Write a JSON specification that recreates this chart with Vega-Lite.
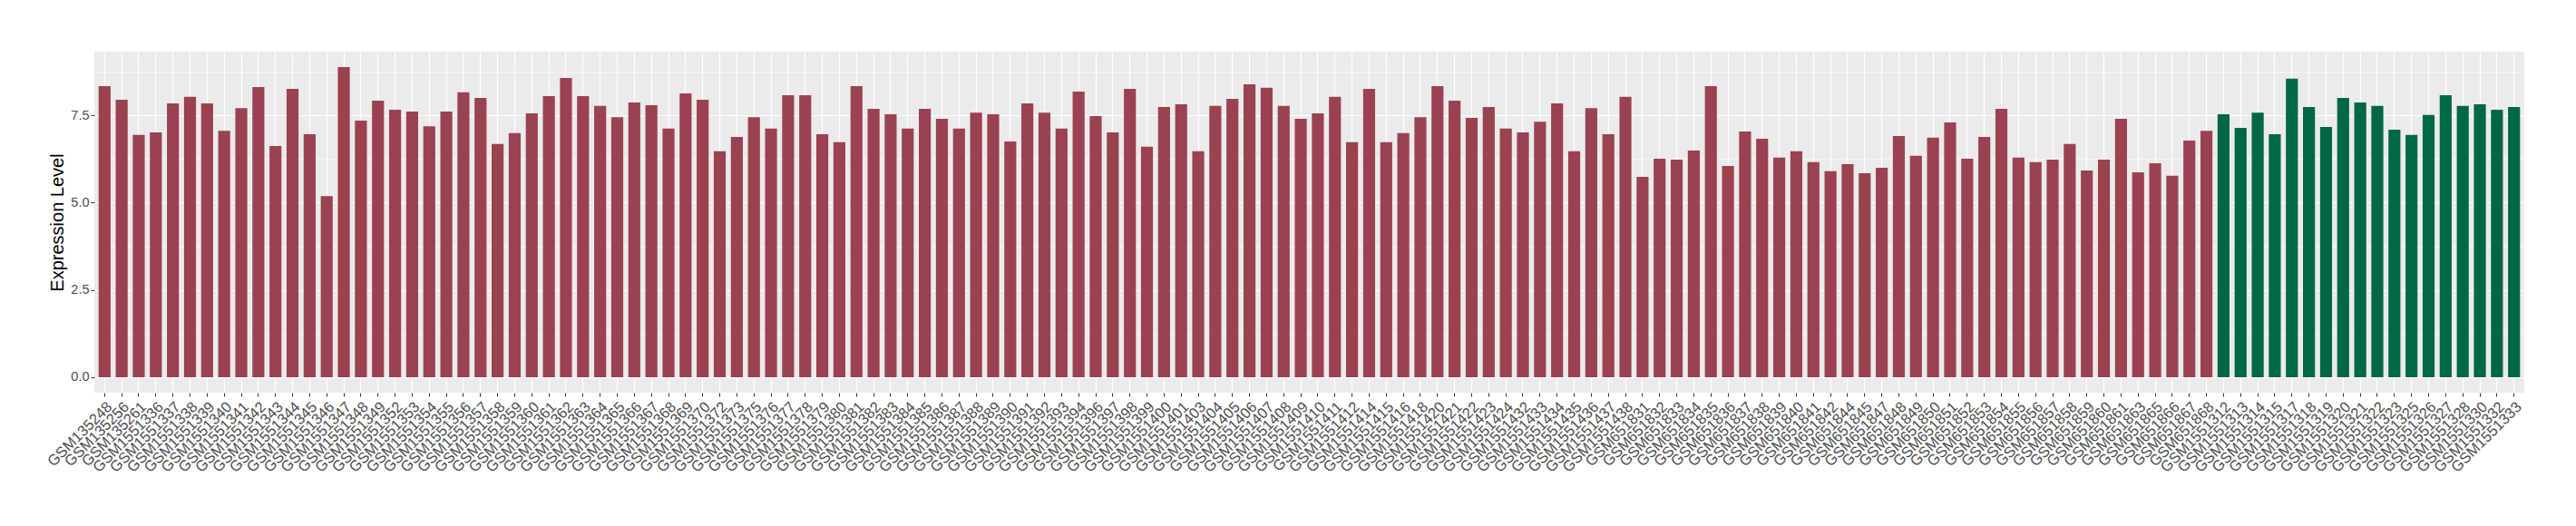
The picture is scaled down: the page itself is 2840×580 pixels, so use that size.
{
  "$schema": "https://vega.github.io/schema/vega-lite/v6.json",
  "width": 2679,
  "height": 376,
  "autosize": "none",
  "padding": {"left": 104, "top": 57, "right": 57, "bottom": 147},
  "background": "white",
  "config": {"view": {"fill": "#EBEBEB", "stroke": null}, "font": "Liberation Sans"},
  "data": {"values": [
    {"sample": "GSM135248", "value": 8.34, "group": "A"},
    {"sample": "GSM135256", "value": 7.95, "group": "A"},
    {"sample": "GSM135261", "value": 6.94, "group": "A"},
    {"sample": "GSM1551336", "value": 7.01, "group": "A"},
    {"sample": "GSM1551337", "value": 7.84, "group": "A"},
    {"sample": "GSM1551338", "value": 8.03, "group": "A"},
    {"sample": "GSM1551339", "value": 7.84, "group": "A"},
    {"sample": "GSM1551340", "value": 7.06, "group": "A"},
    {"sample": "GSM1551341", "value": 7.71, "group": "A"},
    {"sample": "GSM1551342", "value": 8.31, "group": "A"},
    {"sample": "GSM1551343", "value": 6.62, "group": "A"},
    {"sample": "GSM1551344", "value": 8.26, "group": "A"},
    {"sample": "GSM1551345", "value": 6.96, "group": "A"},
    {"sample": "GSM1551346", "value": 5.19, "group": "A"},
    {"sample": "GSM1551347", "value": 8.88, "group": "A"},
    {"sample": "GSM1551348", "value": 7.35, "group": "A"},
    {"sample": "GSM1551349", "value": 7.92, "group": "A"},
    {"sample": "GSM1551352", "value": 7.66, "group": "A"},
    {"sample": "GSM1551353", "value": 7.61, "group": "A"},
    {"sample": "GSM1551354", "value": 7.19, "group": "A"},
    {"sample": "GSM1551355", "value": 7.61, "group": "A"},
    {"sample": "GSM1551356", "value": 8.16, "group": "A"},
    {"sample": "GSM1551357", "value": 8.0, "group": "A"},
    {"sample": "GSM1551358", "value": 6.68, "group": "A"},
    {"sample": "GSM1551359", "value": 6.99, "group": "A"},
    {"sample": "GSM1551360", "value": 7.56, "group": "A"},
    {"sample": "GSM1551361", "value": 8.05, "group": "A"},
    {"sample": "GSM1551362", "value": 8.57, "group": "A"},
    {"sample": "GSM1551363", "value": 8.05, "group": "A"},
    {"sample": "GSM1551364", "value": 7.77, "group": "A"},
    {"sample": "GSM1551365", "value": 7.45, "group": "A"},
    {"sample": "GSM1551366", "value": 7.87, "group": "A"},
    {"sample": "GSM1551367", "value": 7.79, "group": "A"},
    {"sample": "GSM1551368", "value": 7.12, "group": "A"},
    {"sample": "GSM1551369", "value": 8.13, "group": "A"},
    {"sample": "GSM1551370", "value": 7.95, "group": "A"},
    {"sample": "GSM1551372", "value": 6.47, "group": "A"},
    {"sample": "GSM1551373", "value": 6.88, "group": "A"},
    {"sample": "GSM1551375", "value": 7.45, "group": "A"},
    {"sample": "GSM1551376", "value": 7.12, "group": "A"},
    {"sample": "GSM1551377", "value": 8.08, "group": "A"},
    {"sample": "GSM1551378", "value": 8.08, "group": "A"},
    {"sample": "GSM1551379", "value": 6.96, "group": "A"},
    {"sample": "GSM1551380", "value": 6.73, "group": "A"},
    {"sample": "GSM1551381", "value": 8.34, "group": "A"},
    {"sample": "GSM1551382", "value": 7.69, "group": "A"},
    {"sample": "GSM1551383", "value": 7.53, "group": "A"},
    {"sample": "GSM1551384", "value": 7.12, "group": "A"},
    {"sample": "GSM1551385", "value": 7.69, "group": "A"},
    {"sample": "GSM1551386", "value": 7.4, "group": "A"},
    {"sample": "GSM1551387", "value": 7.12, "group": "A"},
    {"sample": "GSM1551388", "value": 7.58, "group": "A"},
    {"sample": "GSM1551389", "value": 7.53, "group": "A"},
    {"sample": "GSM1551390", "value": 6.75, "group": "A"},
    {"sample": "GSM1551391", "value": 7.84, "group": "A"},
    {"sample": "GSM1551392", "value": 7.58, "group": "A"},
    {"sample": "GSM1551393", "value": 7.12, "group": "A"},
    {"sample": "GSM1551394", "value": 8.18, "group": "A"},
    {"sample": "GSM1551396", "value": 7.48, "group": "A"},
    {"sample": "GSM1551397", "value": 7.01, "group": "A"},
    {"sample": "GSM1551398", "value": 8.26, "group": "A"},
    {"sample": "GSM1551399", "value": 6.6, "group": "A"},
    {"sample": "GSM1551400", "value": 7.74, "group": "A"},
    {"sample": "GSM1551401", "value": 7.82, "group": "A"},
    {"sample": "GSM1551403", "value": 6.47, "group": "A"},
    {"sample": "GSM1551404", "value": 7.77, "group": "A"},
    {"sample": "GSM1551405", "value": 7.97, "group": "A"},
    {"sample": "GSM1551406", "value": 8.39, "group": "A"},
    {"sample": "GSM1551407", "value": 8.29, "group": "A"},
    {"sample": "GSM1551408", "value": 7.77, "group": "A"},
    {"sample": "GSM1551409", "value": 7.4, "group": "A"},
    {"sample": "GSM1551410", "value": 7.56, "group": "A"},
    {"sample": "GSM1551411", "value": 8.03, "group": "A"},
    {"sample": "GSM1551412", "value": 6.73, "group": "A"},
    {"sample": "GSM1551414", "value": 8.26, "group": "A"},
    {"sample": "GSM1551415", "value": 6.73, "group": "A"},
    {"sample": "GSM1551416", "value": 6.99, "group": "A"},
    {"sample": "GSM1551418", "value": 7.45, "group": "A"},
    {"sample": "GSM1551420", "value": 8.34, "group": "A"},
    {"sample": "GSM1551421", "value": 7.92, "group": "A"},
    {"sample": "GSM1551422", "value": 7.43, "group": "A"},
    {"sample": "GSM1551423", "value": 7.74, "group": "A"},
    {"sample": "GSM1551424", "value": 7.12, "group": "A"},
    {"sample": "GSM1551432", "value": 7.01, "group": "A"},
    {"sample": "GSM1551433", "value": 7.32, "group": "A"},
    {"sample": "GSM1551434", "value": 7.84, "group": "A"},
    {"sample": "GSM1551435", "value": 6.47, "group": "A"},
    {"sample": "GSM1551436", "value": 7.71, "group": "A"},
    {"sample": "GSM1551437", "value": 6.96, "group": "A"},
    {"sample": "GSM1551438", "value": 8.03, "group": "A"},
    {"sample": "GSM651831", "value": 5.74, "group": "A"},
    {"sample": "GSM651832", "value": 6.26, "group": "A"},
    {"sample": "GSM651833", "value": 6.23, "group": "A"},
    {"sample": "GSM651834", "value": 6.49, "group": "A"},
    {"sample": "GSM651835", "value": 8.34, "group": "A"},
    {"sample": "GSM651836", "value": 6.05, "group": "A"},
    {"sample": "GSM651837", "value": 7.04, "group": "A"},
    {"sample": "GSM651838", "value": 6.83, "group": "A"},
    {"sample": "GSM651839", "value": 6.29, "group": "A"},
    {"sample": "GSM651840", "value": 6.47, "group": "A"},
    {"sample": "GSM651841", "value": 6.16, "group": "A"},
    {"sample": "GSM651842", "value": 5.9, "group": "A"},
    {"sample": "GSM651844", "value": 6.1, "group": "A"},
    {"sample": "GSM651845", "value": 5.84, "group": "A"},
    {"sample": "GSM651847", "value": 6.0, "group": "A"},
    {"sample": "GSM651848", "value": 6.91, "group": "A"},
    {"sample": "GSM651849", "value": 6.34, "group": "A"},
    {"sample": "GSM651850", "value": 6.86, "group": "A"},
    {"sample": "GSM651851", "value": 7.3, "group": "A"},
    {"sample": "GSM651852", "value": 6.26, "group": "A"},
    {"sample": "GSM651853", "value": 6.88, "group": "A"},
    {"sample": "GSM651854", "value": 7.69, "group": "A"},
    {"sample": "GSM651855", "value": 6.29, "group": "A"},
    {"sample": "GSM651856", "value": 6.16, "group": "A"},
    {"sample": "GSM651857", "value": 6.23, "group": "A"},
    {"sample": "GSM651858", "value": 6.68, "group": "A"},
    {"sample": "GSM651859", "value": 5.92, "group": "A"},
    {"sample": "GSM651860", "value": 6.23, "group": "A"},
    {"sample": "GSM651861", "value": 7.4, "group": "A"},
    {"sample": "GSM651863", "value": 5.87, "group": "A"},
    {"sample": "GSM651865", "value": 6.13, "group": "A"},
    {"sample": "GSM651866", "value": 5.77, "group": "A"},
    {"sample": "GSM651867", "value": 6.78, "group": "A"},
    {"sample": "GSM651868", "value": 7.06, "group": "A"},
    {"sample": "GSM1551312", "value": 7.53, "group": "B"},
    {"sample": "GSM1551313", "value": 7.14, "group": "B"},
    {"sample": "GSM1551314", "value": 7.58, "group": "B"},
    {"sample": "GSM1551315", "value": 6.96, "group": "B"},
    {"sample": "GSM1551317", "value": 8.55, "group": "B"},
    {"sample": "GSM1551318", "value": 7.74, "group": "B"},
    {"sample": "GSM1551319", "value": 7.17, "group": "B"},
    {"sample": "GSM1551320", "value": 8.0, "group": "B"},
    {"sample": "GSM1551321", "value": 7.87, "group": "B"},
    {"sample": "GSM1551322", "value": 7.77, "group": "B"},
    {"sample": "GSM1551323", "value": 7.09, "group": "B"},
    {"sample": "GSM1551325", "value": 6.94, "group": "B"},
    {"sample": "GSM1551326", "value": 7.51, "group": "B"},
    {"sample": "GSM1551327", "value": 8.08, "group": "B"},
    {"sample": "GSM1551328", "value": 7.77, "group": "B"},
    {"sample": "GSM1551330", "value": 7.82, "group": "B"},
    {"sample": "GSM1551332", "value": 7.66, "group": "B"},
    {"sample": "GSM1551333", "value": 7.74, "group": "B"}
  ]},
  "mark": {"type": "bar"},
  "encoding": {
    "x": {
      "field": "sample", "type": "nominal", "sort": null,
      "scale": {"paddingInner": 0.3, "paddingOuter": 0.25},
      "axis": {
        "title": null, "labelAngle": -45, "labelAlign": "right", "labelBaseline": "top",
        "labelFontSize": 16.5, "labelColor": "#4D4D4D", "labelPadding": 3,
        "labelOverlap": false, "labelBound": false, "labelLimit": 0,
        "tickSize": 4, "tickColor": "#333333", "tickWidth": 1,
        "domain": false, "grid": true, "gridColor": "#FFFFFF", "gridWidth": 1.2,
        "bandPosition": 0.5
      }
    },
    "y": {
      "field": "value", "type": "quantitative",
      "scale": {"domain": [-0.444, 9.324], "nice": false, "zero": false},
      "axis": {
        "title": "Expression Level", "titleFontSize": 20, "titleFontWeight": "normal",
        "titleColor": "#000000", "titlePadding": 4,
        "values": [0, 1.25, 2.5, 3.75, 5, 6.25, 7.5, 8.75],
        "labelExpr": "datum.value % 2.5 === 0 ? format(datum.value, '.1f') : ''",
        "labelFontSize": 14.5, "labelColor": "#4D4D4D", "labelPadding": 2,
        "tickSize": 4, "tickColor": "#333333",
        "tickOpacity": {"condition": {"test": "datum.value % 2.5 !== 0", "value": 0}, "value": 1},
        "domain": false, "grid": true, "gridColor": "#FFFFFF",
        "gridWidth": {"condition": {"test": "datum.value % 2.5 !== 0", "value": 0.6}, "value": 1.2}
      }
    },
    "color": {
      "field": "group", "type": "nominal",
      "scale": {"domain": ["A", "B"], "range": ["#9A4250", "#006846"]},
      "legend": null
    }
  }
}
